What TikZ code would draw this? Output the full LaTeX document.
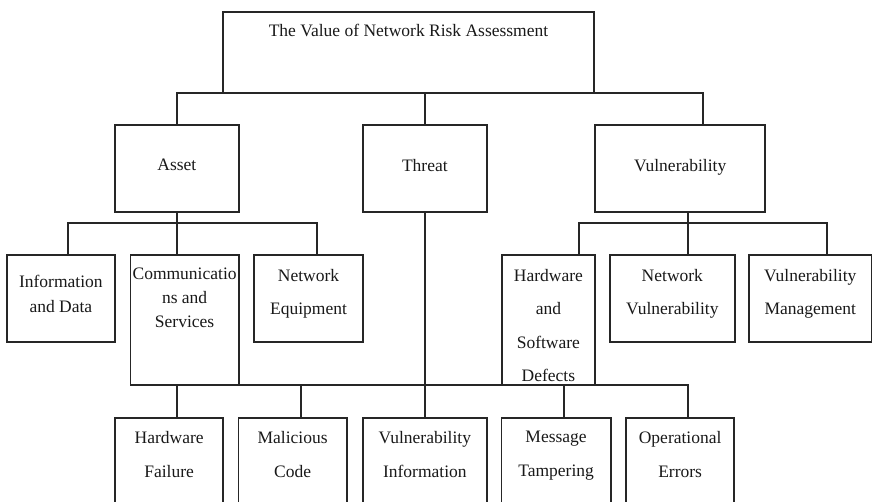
\documentclass[tikz,border=0pt]{standalone}
\usepackage{fontspec}
\setmainfont{Liberation Serif}
\tikzset{
  box/.style={draw=black!85, line width=1.7pt, anchor=north west, inner sep=0pt, outer sep=0pt},
  txt/.style={anchor=north, align=center, inner sep=0pt, text=black!90, font=\fontsize{17.5}{33.5}\selectfont},
  tight/.style={txt, font=\fontsize{17.5}{24.4}\selectfont},
  wire/.style={draw=black!85, line width=1.7pt},
}
\begin{document}
\begin{tikzpicture}[x=1pt, y=-1pt]
  \clip (0,0) rectangle (874,501);
  \fill[white] (0,0) rectangle (874,501);

  \node[box, minimum width=371, minimum height=81, label={[txt, name=root-t, yshift=-12.4]north:The Value of Network Risk Assessment}] (root) at (223,11.7) {};

  \node[box, minimum width=123.7, minimum height=86.7, label={[txt, name=asset-t, yshift=-33.7]north:Asset}] (asset) at (115,125) {};
  \node[box, minimum width=124.3, minimum height=86.7, label={[txt, name=threat-t, yshift=-33.7]north:Threat}] (threat) at (362.7,125) {};
  \node[box, minimum width=170.3, minimum height=86.7, label={[txt, name=vuln-t, yshift=-33.7]north:Vulnerability}] (vuln) at (595,125) {};

  \node[box, minimum width=108.3, minimum height=86.7, label={[tight, name=info-t, yshift=-20]north:{Information\\and Data}}] (info) at (6.7,255.3) {};
  \node[box, minimum width=108.2, minimum height=129.7, label={[tight, name=comm-t, yshift=-12]north:{Communicatio\\ns and\\Services}}] (comm) at (130.5,255.3) {};
  \node[box, minimum width=108.4, minimum height=86.7, label={[txt, name=neteq-t, yshift=-13.75]north:{Network\\Equipment}}] (neteq) at (254.3,255.3) {};
  \node[box, minimum width=93.2, minimum height=129.7, label={[txt, name=hwdef-t, yshift=-13.75]north:{Hardware\\and\\Software\\Defects}}] (hwdef) at (501.8,255.3) {};
  \node[box, minimum width=124.7, minimum height=86.7, label={[txt, name=netvul-t, yshift=-13.75]north:{Network\\Vulnerability}}] (netvul) at (610,255.3) {};
  \node[box, minimum width=122.5, minimum height=86.7, label={[txt, name=vulmgmt-t, yshift=-13.75]north:{Vulnerability\\Management}}] (vulmgmt) at (749,255.3) {};

  \node[box, minimum width=108.3, minimum height=130, label={[txt, name=hwfail-t, yshift=-13]north:{Hardware\\Failure}}] (hwfail) at (115,418.3) {};
  \node[box, minimum width=108.2, minimum height=130, label={[txt, name=malcode-t, yshift=-13]north:{Malicious\\Code}}] (malcode) at (238.5,418.3) {};
  \node[box, minimum width=124.3, minimum height=130, label={[txt, name=vulinfo-t, yshift=-13]north:{Vulnerability\\Information}}] (vulinfo) at (362.7,418.3) {};
  \node[box, minimum width=109.2, minimum height=130, label={[txt, name=msgtamp-t, yshift=-13]north:{Message\\Tampering}}] (msgtamp) at (501.5,418.3) {};
  \node[box, minimum width=108.3, minimum height=130, label={[txt, name=operr-t, yshift=-13]north:{Operational\\Errors}}] (operr) at (626,418.3) {};

  \coordinate (vuln-in) at ([xshift=22.85]vuln.north);
  \draw[wire] (asset.north) |- (vuln-in |- root.south) -- (vuln-in);
  \draw[wire] (threat.north) -- (threat.north |- root.south);

  \coordinate (asset-bar) at ([yshift=-11]asset.south);
  \draw[wire] (asset.south) -- (asset-bar |- comm.north);
  \draw[wire] ([xshift=7.45]info.north) |- (asset-bar) -| ([xshift=8.2]neteq.north);

  \coordinate (vuln-out) at ([xshift=7.55]vuln.south);
  \coordinate (vuln-bar) at ([yshift=-11]vuln-out);
  \draw[wire] (vuln-out) -- (vuln-bar |- netvul.north);
  \draw[wire] ([xshift=30.6]hwdef.north) |- (vuln-bar) -| ([xshift=17]vulmgmt.north);

  \coordinate (threat-bar) at (threat.south |- hwdef.south);
  \coordinate (malcode-in) at ([xshift=8.1]malcode.north);
  \coordinate (msgtamp-in) at ([xshift=7.9]msgtamp.north);
  \draw[wire] (threat.south) -- (vulinfo.north);
  \draw[wire] ([xshift=8.15]hwfail.north) |- (threat-bar) -| ([xshift=8.15]operr.north);
  \draw[wire] (malcode-in) -- (malcode-in |- threat-bar);
  \draw[wire] (msgtamp-in) -- (msgtamp-in |- threat-bar);
\end{tikzpicture}
\end{document}
